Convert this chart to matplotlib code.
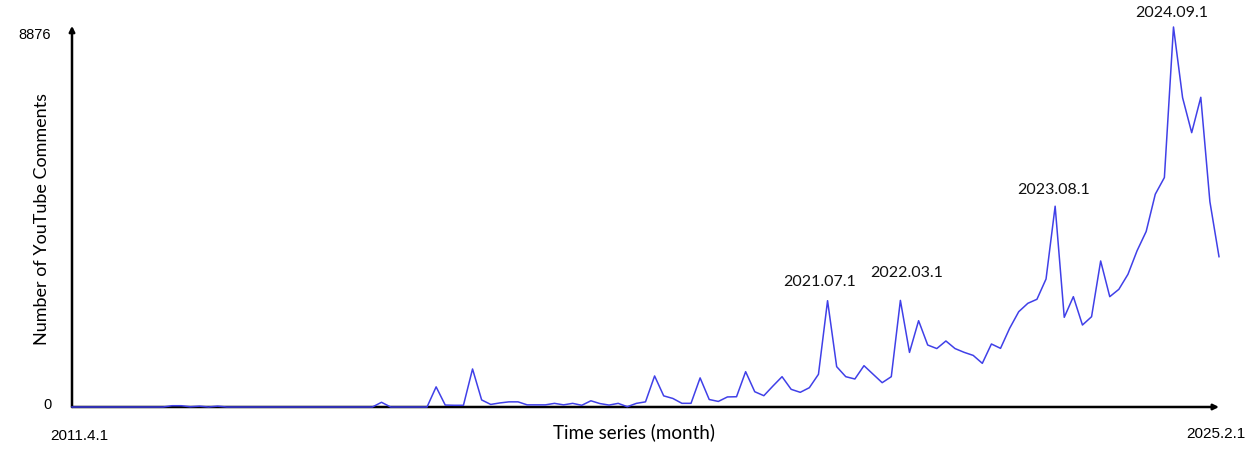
import matplotlib
matplotlib.use("Agg")
import matplotlib.pyplot as plt

# monthly comment counts (index = month position along the axis)
comments = [
    0, 0, 0, 0, 0, 0, 0, 0, 0, 0,
    0, 30, 30, 5, 20, 0, 20, 0, 0, 0,
    0, 0, 0, 0, 0, 0, 0, 0, 0, 0,
    0, 0, 0, 0, 110, 0, 0, 0, 0, 0,
    470, 45, 40, 40, 888, 165, 60, 95, 120, 120,
    50, 50, 50, 85, 50, 85, 40, 145, 80, 45,
    85, 7, 85, 120, 725, 260, 200, 86, 86, 680,
    175, 130, 235, 240, 825, 357, 264, 490, 708, 413,
    343, 451, 764, 2483, 942, 708, 654, 965, 766, 568,
    708, 2490, 1275, 2016, 1448, 1365, 1542, 1365, 1277, 1205,
    1020, 1472, 1370, 1838, 2226, 2422, 2516, 2990, 4690, 2095,
    2577, 1915, 2109, 3411, 2577, 2749, 3100, 3650, 4100, 4970,
    5360, 8876, 7225, 6408, 7234, 4796, 3511,
]
months = list(range(len(comments)))

start_label = "2011.4.1"
end_label = "2025.2.1"
y_max_label = "8876"
y_min_label = "0"
peak_labels = ["2021.07.1", "2022.03.1", "2023.08.1", "2024.09.1"]
peak_index = [83, 91, 108, 121]
peak_offsets = [(-5.8, 13.7), (4.3, 20.0), (-1.4, 11.5), (-1.4, 10.0)]

W, H = 1258, 455
fig = plt.figure(figsize=(W / 100, H / 100), dpi=100)
ax = fig.add_axes([72 / W, 1 - 407 / H, (1219 - 72) / W, (407 - 27) / H])

ax.plot(months, comments, color="#4040e8", lw=1.1, zorder=3, clip_on=False)
ax.set_xlim(0, len(comments) - 1)
ax.set_ylim(0, max(comments))
for s in ax.spines.values():
    s.set_visible(False)
ax.set_xticks([])
ax.set_yticks([])

# axis arrows
ax.annotate("", xy=(1, 0), xytext=(0, 0), xycoords="axes fraction",
            arrowprops=dict(arrowstyle="-|>", lw=1.8, color="black",
                            mutation_scale=8, shrinkA=0, shrinkB=0), zorder=2)
ax.annotate("", xy=(0, 1.003), xytext=(0, 0), xycoords="axes fraction",
            arrowprops=dict(arrowstyle="-|>", lw=1.8, color="black",
                            mutation_scale=8, shrinkA=0, shrinkB=0), zorder=2)

lab_font = ["Lato", "DejaVu Sans"]
num_font = ["Liberation Sans", "DejaVu Sans"]

for lab, idx, (dx, dy) in zip(peak_labels, peak_index, peak_offsets):
    ax.annotate(lab, xy=(idx, comments[idx]), xytext=(dx, dy),
                textcoords="offset points", ha="center", va="center",
                fontsize=11.5, family=lab_font, color="#111111",
                annotation_clip=False)

def ft(x, y, s, **kw):
    fig.text(x / W, 1 - y / H, s, **kw)

ft(35, 35, y_max_label, ha="center", va="center", fontsize=10.5, family=num_font)
ft(47, 405, y_min_label, ha="center", va="center", fontsize=10.5, family=num_font)
ft(79, 436, start_label, ha="center", va="center", fontsize=11, family=num_font)
ft(1216, 434, end_label, ha="center", va="center", fontsize=11, family=num_font)
ft(634, 432, "Time series (month)", ha="center", va="center", fontsize=13.5, family=lab_font)
ft(42, 219, "Number of YouTube Comments", ha="center", va="center", rotation=90,
   fontsize=13, family=lab_font)

fig.savefig("out.png", dpi=100)
